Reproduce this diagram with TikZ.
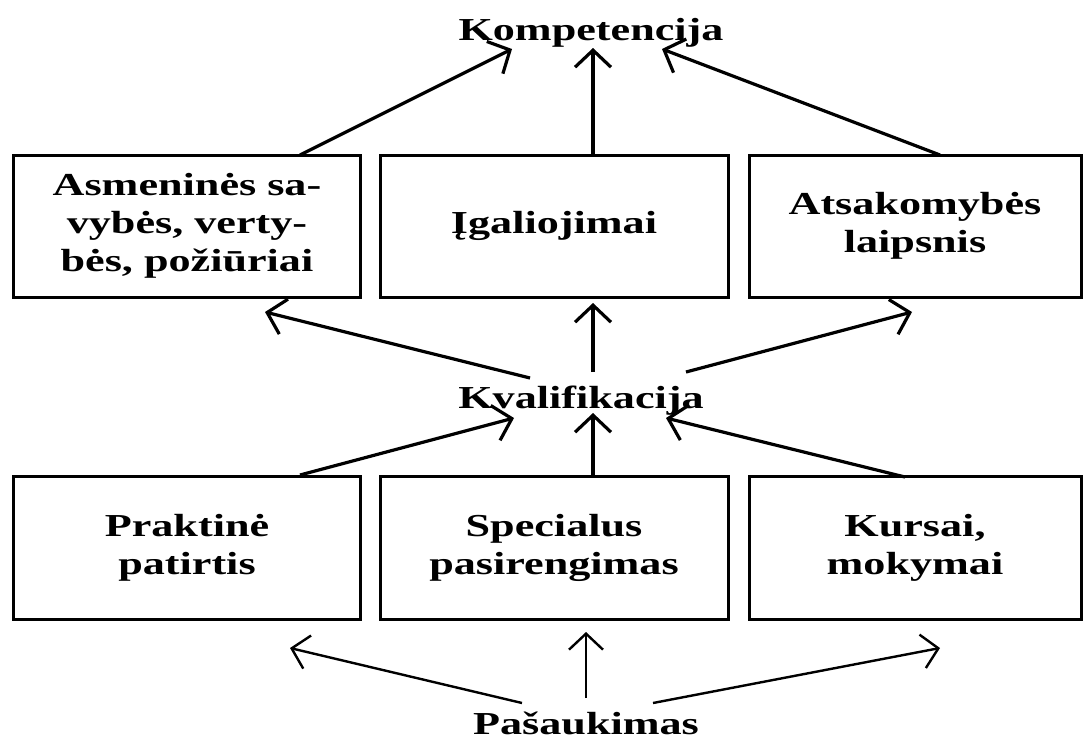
\documentclass[tikz,border=0pt]{standalone}
\usepackage{fontspec}
\setmainfont{Liberation Serif}[FakeStretch=1.38]
\usetikzlibrary{arrows.meta}
\begin{document}
\begin{tikzpicture}[x=1pt,y=-1pt,
  lbl/.style={font=\bfseries\fontsize{32}{38}\selectfont, inner sep=0pt},
  boxnode/.style={draw, line width=3pt, inner sep=0pt, align=center,
    font=\bfseries\fontsize{32}{38}\selectfont},
  arr/.style={line width=3.2pt, -{Straight Barb[length=17pt,width=36pt,line width=3.2pt]}},
  arrthin/.style={line width=2.4pt, -{Straight Barb[length=16pt,width=34pt,line width=2.4pt]}}]
\useasboundingbox (0,0) rectangle (1089,742);
% titles
\node[lbl, anchor=base] (komp) at (591,40) {Kompetencija};
\node[lbl, anchor=base] (kval) at (581,408) {Kvalifikacija};
\node[lbl, anchor=base] (pas) at (586,734) {Pašaukimas};
% upper row of boxes
\node[boxnode, minimum width=347pt, minimum height=142pt] (a1) at (187,226) {Asmeninės sa-\\vybės, verty-\\bės, požiūriai};
\node[boxnode, minimum width=348pt, minimum height=142pt] (a2) at (554,226) {Įgaliojimai};
\node[boxnode, minimum width=332pt, minimum height=142pt] (a3) at (915,226) {Atsakomybės\\laipsnis};
% lower row of boxes
\node[boxnode, minimum width=347pt, minimum height=143pt] (b1) at (187,548) {Praktinė\\patirtis};
\node[boxnode, minimum width=348pt, minimum height=143pt] (b2) at (554,548) {Specialus\\pasirengimas};
\node[boxnode, minimum width=332pt, minimum height=143pt] (b3) at (915,548) {Kursai,\\mokymai};
% arrow end points
\coordinate (k1) at (512,49);
\coordinate (k2) at (593,48);
\coordinate (k3) at (662,49);
\coordinate (a1s) at (300,155);
\coordinate (a2s) at (593,155);
\coordinate (a3s) at (940,155);
\coordinate (q1) at (530,378);
\coordinate (q2) at (593,372);
\coordinate (q3) at (686,372);
\coordinate (t1) at (265,312);
\coordinate (t2) at (593,303);
\coordinate (t3) at (912,312);
\coordinate (r1) at (300,475);
\coordinate (r2) at (593,477);
\coordinate (r3) at (905,477);
\coordinate (s1) at (514,418);
\coordinate (s2) at (593,413);
\coordinate (s3) at (666,418);
\coordinate (p1) at (522,703);
\coordinate (p2) at (586,698);
\coordinate (p3) at (653,703);
\coordinate (u1) at (290,648);
\coordinate (u2) at (586,632);
\coordinate (u3) at (940,648);
% connectors
\draw[arr] (a1s) -- (k1);
\draw[arr] (a2s) -- (k2);
\draw[arr] (a3s) -- (k3);
\draw[arr] (q1) -- (t1);
\draw[arr] (q2) -- (t2);
\draw[arr] (q3) -- (t3);
\draw[arr] (r1) -- (s1);
\draw[arr] (r2) -- (s2);
\draw[arr] (r3) -- (s3);
\draw[arrthin] (p1) -- (u1);
\draw[arrthin] (p2) -- (u2);
\draw[arrthin] (p3) -- (u3);
\end{tikzpicture}
\end{document}
